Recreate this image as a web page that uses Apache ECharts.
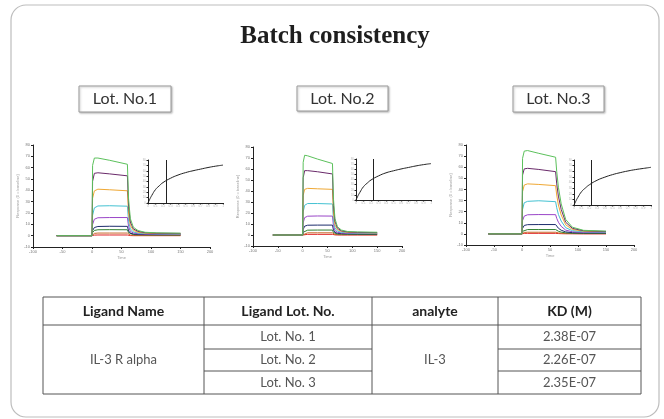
<!DOCTYPE html>
<html><head><meta charset="utf-8">
<script src="https://cdn.jsdelivr.net/npm/echarts@6/dist/echarts.min.js"></script>
<style>html,body{margin:0;padding:0;background:#fff}#c{width:664px;height:419px}</style>
</head><body><div id="c"></div>
<script>
// ---------- data ----------
const titleText = 'Batch consistency';
const lotLabels = ['Lot. No.1', 'Lot. No.2', 'Lot. No.3'];
const curveColors = ['#5cc15c', '#6a2a6a', '#efa834', '#44c2d2', '#9a46c8', '#1c2c6c', '#2f7f2f', '#c8682a', '#e02424'];
const times = [-60, 0, 1, 4, 10, 30, 60, 62, 65, 70, 78, 90, 110, 150];
const lot1Curves = [
  [0, 0, 62, 68.5, 68.5, 66.5, 63, 32, 15, 7.5, 4.5, 3, 2.5, 2.2],
  [0, 0, 48, 55, 55.5, 54.5, 52.8, 26, 12, 6, 3.8, 2.6, 2.2, 2],
  [0, 0, 33, 39.5, 41, 40.5, 39.6, 19, 9, 4.8, 3, 2.2, 1.9, 1.7],
  [0, 0, 18, 24.5, 26.2, 26.4, 26, 12.5, 6, 3.3, 2.3, 1.8, 1.6, 1.5],
  [0, 0, 10, 14.5, 15.8, 16, 16, 8, 3.8, 2.4, 1.7, 1.4, 1.3, 1.2],
  [0, 0, 4.5, 7.2, 8.1, 8.3, 8.2, 4.2, 2.2, 1.5, 1.2, 1.0, 0.9, 0.9],
  [0, 0, 2.8, 4.6, 5.2, 5.3, 5.2, 2.7, 1.4, 1.0, 0.8, 0.7, 0.7, 0.6],
  [0, 0, 1.2, 2, 2.3, 2.3, 2.3, 1.2, 0.6, 0.4, 0.3, 0.3, 0.3, 0.3],
  [0, 0, 0.3, 0.5, 0.6, 0.6, 0.6, 0.3, 0.1, 0, 0, 0, 0, 0]
];
const lot2Curves = [
  [0, 0, 66, 72.5, 72, 69, 65, 33, 15, 7.5, 4.5, 3.2, 2.8, 2.5],
  [0, 0, 52, 58.5, 58.5, 57.5, 55.5, 27, 12.5, 6.2, 3.8, 2.8, 2.4, 2.2],
  [0, 0, 36, 41.5, 42.4, 42, 41.5, 20, 9.2, 5, 3.2, 2.4, 2.1, 1.9],
  [0, 0, 21, 27, 28.6, 28.6, 28.2, 13.5, 6.4, 3.6, 2.5, 2, 1.8, 1.7],
  [0, 0, 11, 15.8, 17.1, 17.3, 17.2, 8.4, 4, 2.5, 1.8, 1.5, 1.4, 1.3],
  [0, 0, 5, 8, 8.9, 9, 9, 4.6, 2.3, 1.6, 1.3, 1.1, 1, 1],
  [0, 0, 2.5, 4, 4.4, 4.5, 4.5, 2.3, 1.2, 0.9, 0.8, 0.7, 0.6, 0.6],
  [0, 0, 1, 1.7, 2, 2, 2, 1, 0.5, 0.4, 0.3, 0.3, 0.3, 0.3],
  [0, 0, 0.3, 0.5, 0.6, 0.6, 0.6, 0.3, 0.1, 0, 0, 0, 0, 0]
];
const lot3Curves = [
  [0, 0, 68, 74.5, 75, 72.5, 69, 56, 42, 27, 13, 6, 3.2, 2.5],
  [0, 0, 53, 58.5, 59, 58, 56, 45, 34, 22, 10.5, 5, 2.8, 2.2],
  [0, 0, 38, 44, 45, 44.5, 43.4, 35, 26, 17, 8.2, 4, 2.4, 2],
  [0, 0, 22, 28, 29.3, 29.8, 29, 23.5, 17.5, 11.5, 5.6, 2.9, 1.9, 1.7],
  [0, 0, 12, 16, 17.2, 17.4, 17.3, 14, 10.5, 6.8, 3.4, 1.9, 1.4, 1.3],
  [0, 0, 5, 7.6, 8.3, 8.4, 8.4, 6.8, 5.1, 3.3, 1.8, 1.1, 0.9, 0.9],
  [0, 0, 2.3, 3.5, 3.9, 3.9, 3.9, 3.2, 2.4, 1.6, 0.9, 0.6, 0.5, 0.5],
  [0, 0, 0.9, 1.3, 1.5, 1.5, 1.5, 1.2, 0.9, 0.6, 0.4, 0.3, 0.3, 0.3],
  [0, 0, 0.3, 0.5, 0.5, 0.5, 0.5, 0.4, 0.3, 0.2, 0.1, 0.1, 0, 0]
];
const affConc = [0, 0.02, 0.05, 0.1, 0.15, 0.2, 0.3, 0.4, 0.5, 0.6, 0.7, 0.8, 0.9, 1.0];
const lot1Affinity = [0, 6, 14, 25, 32, 38, 46, 52, 56.5, 60, 63, 66, 68.5, 70.5];
const lot2Affinity = [0, 6.3, 14.5, 26, 33, 39, 47, 53, 57, 60.5, 63.5, 66.5, 69, 71];
const lot3Affinity = [0, 5.8, 13.5, 24, 30.5, 36, 44, 49.5, 54, 57.5, 60.5, 63, 65, 67];
const tableHeaders = ['Ligand Name', 'Ligand Lot. No.', 'analyte', 'KD (M)'];
const ligandName = 'IL-3 R alpha';
const ligandLots = ['Lot. No. 1', 'Lot. No. 2', 'Lot. No. 3'];
const analyteName = 'IL-3';
const kdValues = ['2.38E-07', '2.26E-07', '2.35E-07'];

// ---------- layout ----------
const mainGrids = [
  {left: 33, top: 145, width: 177, height: 102},
  {left: 253, top: 147, width: 149, height: 99},
  {left: 466, top: 145, width: 168, height: 100}
];
const insetGrids = [
  {left: 148, top: 160, width: 75, height: 43},
  {left: 356, top: 159, width: 75, height: 41},
  {left: 574, top: 160, width: 77, height: 45}
];
const lotBoxes = [
  {x: 79, y: 86, w: 92, h: 26},
  {x: 297, y: 86, w: 91, h: 25},
  {x: 513, y: 86, w: 91, h: 26}
];
const colX = [43, 204, 372, 498, 641];
const rowY = [297, 325, 349, 371, 394];

const allCurves = [lot1Curves, lot2Curves, lot3Curves];
const allAff = [lot1Affinity, lot2Affinity, lot3Affinity];

const grid = [], xAxis = [], yAxis = [], series = [];
const axisCol = '#222';
mainGrids.forEach((g, i) => {
  grid.push(Object.assign({}, g));
  xAxis.push({gridIndex: i, type: 'value', min: -100, max: 200, interval: 50,
    axisLine: {onZero: false, lineStyle: {color: axisCol, width: 1}},
    axisTick: {length: 2, lineStyle: {color: axisCol}},
    axisLabel: {fontSize: 4, color: '#777', margin: 3},
    splitLine: {show: false},
    name: 'Time', nameLocation: 'middle', nameGap: 9, nameTextStyle: {fontSize: 4, color: '#999'}});
  yAxis.push({gridIndex: i, type: 'value', min: -10, max: 80, interval: 10,
    axisLine: {onZero: false, lineStyle: {color: axisCol, width: 1}},
    axisTick: {length: 2, lineStyle: {color: axisCol}},
    axisLabel: {fontSize: 4, color: '#777', margin: 3},
    splitLine: {show: false},
    name: 'Response (0 = baseline)', nameLocation: 'middle', nameGap: 10, nameTextStyle: {fontSize: 4, color: '#999'}});
  const curves = allCurves[i];
  for (let k = curves.length - 1; k >= 0; k--) {
    series.push({type: 'line', xAxisIndex: i, yAxisIndex: i, showSymbol: false, silent: true,
      data: times.map((t, j) => [t, curves[k][j]]),
      lineStyle: {color: curveColors[k], width: 1}, z: 2 + (curves.length - k)});
  }
});
insetGrids.forEach((g, i) => {
  const idx = 3 + i;
  grid.push(Object.assign({}, g));
  xAxis.push({gridIndex: idx, type: 'value', min: 0, max: 1, interval: 0.1,
    axisLine: {onZero: false, lineStyle: {color: axisCol, width: 1}},
    axisTick: {length: 1.5, lineStyle: {color: axisCol}},
    axisLabel: {fontSize: 3, color: '#bbb', margin: 2},
    splitLine: {show: false}});
  yAxis.push({gridIndex: idx, type: 'value', min: 0, max: 80, interval: 10,
    axisLine: {onZero: false, lineStyle: {color: axisCol, width: 1}},
    axisTick: {length: 1.5, lineStyle: {color: axisCol}},
    axisLabel: {fontSize: 3, color: '#bbb', margin: 2},
    splitLine: {show: false}});
  series.push({type: 'line', xAxisIndex: idx, yAxisIndex: idx, showSymbol: false, smooth: true, silent: true,
    data: affConc.map((c, j) => [c, allAff[i][j]]),
    lineStyle: {color: '#222', width: 1},
    markLine: {symbol: 'none', silent: true, label: {show: false},
      lineStyle: {color: '#222', width: 1, type: 'solid'},
      data: [{xAxis: parseFloat(kdValues[i]) * 1e6}]}});
});

const els = [];
els.push({type: 'rect', shape: {x: 11, y: 5, width: 648, height: 412, r: 15},
  style: {fill: 'none', stroke: '#bdbdbd', lineWidth: 1.2}, z: 1});
els.push({type: 'text', x: 335, y: 37, style: {text: titleText, font: 'bold 25px "Liberation Serif"', fill: '#1e1e1e', align: 'center', verticalAlign: 'middle'}});
lotBoxes.forEach((b, i) => {
  els.push({type: 'rect', shape: {x: b.x, y: b.y, width: b.w, height: b.h},
    style: {fill: '#fff', stroke: '#9a9a9a', lineWidth: 1, shadowBlur: 2, shadowOffsetX: 1, shadowOffsetY: 1, shadowColor: 'rgba(0,0,0,0.25)'}});
  els.push({type: 'text', x: b.x + b.w / 2, y: b.y + b.h / 2, style: {text: lotLabels[i], font: '16px Lato', fill: '#333', align: 'center', verticalAlign: 'middle'}});
});
// table
const lc = '#555';
const hl = (x1, x2, y) => els.push({type: 'line', shape: {x1, y1: y, x2, y2: y}, style: {stroke: lc, lineWidth: 1}});
const vl = (x, y1, y2) => els.push({type: 'line', shape: {x1: x, y1, x2: x, y2}, style: {stroke: lc, lineWidth: 1}});
hl(colX[0], colX[4], rowY[0]); hl(colX[0], colX[4], rowY[1]); hl(colX[0], colX[4], rowY[4]);
hl(colX[1], colX[2], rowY[2]); hl(colX[1], colX[2], rowY[3]);
hl(colX[3], colX[4], rowY[2]); hl(colX[3], colX[4], rowY[3]);
colX.forEach(x => vl(x, rowY[0], rowY[4]));
const txt = (t, x, y, font, fill) => els.push({type: 'text', x, y, style: {text: t, font, fill, align: 'center', verticalAlign: 'middle'}});
tableHeaders.forEach((h, i) => txt(h, (colX[i] + colX[i + 1]) / 2, (rowY[0] + rowY[1]) / 2, 'bold 14px Lato', '#222'));
const bodyFont = '13px Lato', bodyCol = '#555';
txt(ligandName, (colX[0] + colX[1]) / 2, (rowY[1] + rowY[4]) / 2, bodyFont, bodyCol);
txt(analyteName, (colX[2] + colX[3]) / 2, (rowY[1] + rowY[4]) / 2, bodyFont, bodyCol);
ligandLots.forEach((l, r) => txt(l, (colX[1] + colX[2]) / 2, (rowY[1 + r] + rowY[2 + r]) / 2, bodyFont, bodyCol));
kdValues.forEach((k, r) => txt(k, (colX[3] + colX[4]) / 2, (rowY[1 + r] + rowY[2 + r]) / 2, bodyFont, bodyCol));

const chart = echarts.init(document.getElementById('c'), null, {renderer: 'canvas'});
chart.setOption({
  animation: false,
  backgroundColor: '#fff',
  grid, xAxis, yAxis, series,
  graphic: {elements: els}
});
</script></body></html>
